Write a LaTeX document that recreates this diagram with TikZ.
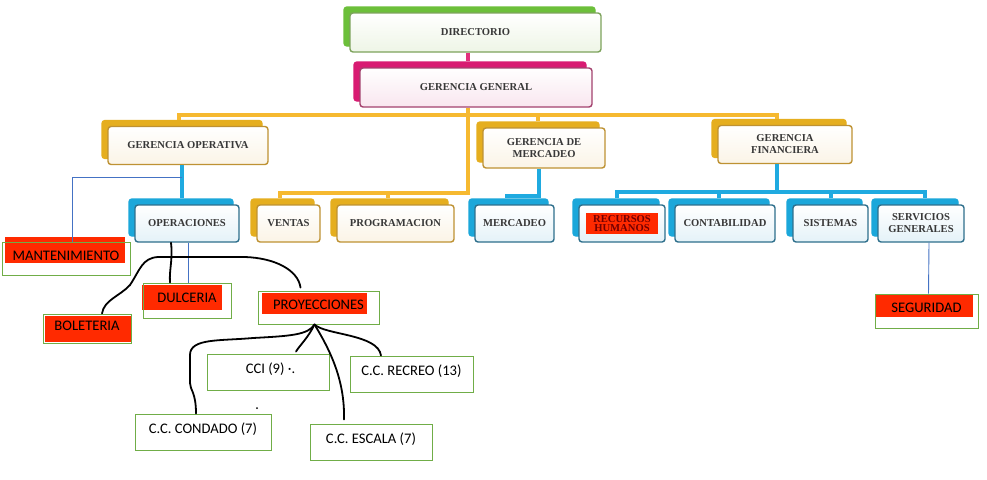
\documentclass[tikz,border=0pt]{standalone}
\usepackage{fontspec}
\setmainfont{Liberation Serif}
\newfontfamily\wordfont{Carlito}
\usetikzlibrary{shadows}

\definecolor{grnback}{HTML}{6CBF3A}
\definecolor{grnedge}{HTML}{7DA35C}
\definecolor{grnfill}{HTML}{EEF5E6}
\definecolor{magback}{HTML}{D81B72}
\definecolor{magedge}{HTML}{A3426E}
\definecolor{magfill}{HTML}{F9E6EF}
\definecolor{yelback}{HTML}{E5AE1F}
\definecolor{yeledge}{HTML}{BE9233}
\definecolor{yelfill}{HTML}{FBF4E6}
\definecolor{bluback}{HTML}{1BA7DA}
\definecolor{bluedge}{HTML}{2E6F8C}
\definecolor{blufill}{HTML}{E4F2F8}
\definecolor{yelline}{HTML}{F6B930}
\definecolor{bluline}{HTML}{1FAAE0}
\definecolor{pinkline}{HTML}{E2307C}
\definecolor{thinblue}{HTML}{4472C4}
\definecolor{wordgreen}{HTML}{70AD47}
\definecolor{marker}{HTML}{FF2A00}

\tikzset{
    orgbox/.style={rounded corners=3pt, line width=1.4pt, inner sep=0pt, align=center,
        minimum height=38pt, text=black!78,
        font=\bfseries\fontsize{10.6}{12}\selectfont},
    grnbox/.style={orgbox, draw=grnedge, top color=white, bottom color=grnfill,
        copy shadow={shadow xshift=-6pt, shadow yshift=6pt, fill=grnback, draw=grnback}},
    magbox/.style={orgbox, draw=magedge, top color=white, bottom color=magfill,
        copy shadow={shadow xshift=-6pt, shadow yshift=6pt, fill=magback, draw=magback}},
    yelbox/.style={orgbox, draw=yeledge, top color=white, bottom color=yelfill,
        copy shadow={shadow xshift=-6pt, shadow yshift=6pt, fill=yelback, draw=yelback}},
    blubox/.style={orgbox, draw=bluedge, top color=white, bottom color=blufill,
        copy shadow={shadow xshift=-6pt, shadow yshift=6pt, fill=bluback, draw=bluback}},
    wordbox/.style={draw=wordgreen, line width=1pt, inner sep=0pt,
        text height=10pt, text depth=6.6pt,
        font=\wordfont\fontsize{14.6}{16}\selectfont},
    yel/.style={yelline, line width=4pt},
    blu/.style={bluline, line width=4pt},
    thinline/.style={thinblue, line width=0.9pt},
    hand/.style={line width=1.8pt, line cap=round, line join=round}
}

\begin{document}
\begin{tikzpicture}[x=1pt, y=-1pt]
    \useasboundingbox[fill=white] (0,0) rectangle (987,479);

    % top of the chart
    \node[grnbox, minimum width=251pt, minimum height=39pt] (dir) at (475.5,32.5) {DIRECTORIO};
    \node[magbox, minimum width=232pt, minimum height=39pt] (gg) at (476,87.5) {GERENCIA GENERAL};
    \node[yelbox, minimum width=160pt] (gop) at (188,145.5) {GERENCIA OPERATIVA};
    \node[yelbox, minimum width=122pt, minimum height=40pt] (gmer) at (544,148) {GERENCIA DE\\MERCADEO};
    \node[yelbox, minimum width=134pt] (gfin) at (785,144.5) {GERENCIA\\FINANCIERA};

    % second row
    \node[blubox, minimum width=104pt, minimum height=37pt] (oper) at (187,223.5) {OPERACIONES};
    \node[yelbox, minimum width=63pt, minimum height=37pt] (vent) at (288.5,223.5) {VENTAS};
    \node[yelbox, minimum width=117pt, minimum height=37pt] (prog) at (395.5,223.5) {PROGRAMACION};
    \node[blubox, minimum width=79pt, minimum height=37pt] (merc) at (514.5,223.5) {MERCADEO};
    \node[blubox, minimum width=86pt, minimum height=37pt, text=red!45!black] (rrhh) at (622,223.5)
        {\setlength{\fboxsep}{2pt}\colorbox{marker}{\parbox{68pt}{\centering RECURSOS\\[-2.5pt]HUMANOS}}};
    \node[blubox, minimum width=100pt, minimum height=37pt] (cont) at (725,223.5) {CONTABILIDAD};
    \node[blubox, minimum width=75pt, minimum height=37pt] (sist) at (830.5,223.5) {SISTEMAS};
    \node[blubox, minimum width=86pt, minimum height=37pt] (serv) at (921,223.5) {SERVICIOS\\GENERALES};

    % marker strokes
    \fill[marker] (5,237) rectangle (125,263);
    \fill[marker] (142,285) rectangle (222,310);
    \fill[marker] (45,316) rectangle (131,342);
    \fill[marker] (262,293) rectangle (367,314);
    \fill[marker] (875,294) rectangle (973,317);

    % hand made boxes
    \node[wordbox, minimum width=128pt, minimum height=33pt] (mant) at (66,258.5) {MANTENIMIENTO};
    \node[wordbox, minimum width=88pt, minimum height=35pt] (dulc) at (187,300.5) {DULCERIA};
    \node[wordbox, minimum width=88pt, minimum height=29pt] (bol) at (87,328.5) {BOLETERIA};
    \node[wordbox, minimum width=121pt, minimum height=33pt] (proy) at (318.5,307.5) {PROYECCIONES};
    \node[wordbox, minimum width=103pt, minimum height=34pt] (seg) at (926.5,311) {SEGURIDAD};
    \node[wordbox, minimum width=122pt, minimum height=36pt] (cci) at (268,372) {\hspace{5pt}CCI (9) ·.};
    \node[wordbox, minimum width=123pt, minimum height=36pt] (recr) at (411.5,374) {C.C. RECREO (13)};
    \node[wordbox, minimum width=136pt, minimum height=36pt] (cond) at (203,432) {C.C. CONDADO (7)};
    \node[wordbox, minimum width=122pt, minimum height=36pt] (esca) at (371,442) {C.C. ESCALA (7)};
    \fill (257,408) circle (1pt);

    % chart connectors
    \draw[pinkline, line width=4pt] ([xshift=-7.5pt]dir.south) -- ([xshift=-8pt,yshift=6pt]gg.north);
    \draw[yel] ([xshift=-8pt]gg.south) -- ++(0,85) -| ([xshift=-8.5pt,yshift=6pt]vent.north);
    \draw[yel] ([xshift=-7.5pt,yshift=6pt]prog.north) -- ++(0,-7);
    \draw[yel] ([xshift=-9pt,yshift=6pt]gop.north) -- ++(0,-5) -| ([xshift=-8pt,yshift=6pt]gfin.north);
    \draw[yel] ([xshift=-6pt,yshift=6pt]gmer.north) -- ++(0,-7);
    \draw[blu] ([xshift=-6pt]gop.south) -- ([xshift=-5pt,yshift=6pt]oper.north);
    \draw[blu] ([xshift=-5pt]gmer.south) -- ++(0,27) -| ([xshift=-7.5pt,yshift=6pt]merc.north);
    \draw[blu] ([xshift=-8pt]gfin.south) -- ++(0,29);
    \draw[blu] ([xshift=-5pt,yshift=6pt]rrhh.north) -- ++(0,-6) -| ([xshift=4pt,yshift=6pt]serv.north);
    \draw[blu] ([xshift=-6pt,yshift=6pt]cont.north) -- ++(0,-6);
    \draw[blu] ([yshift=6pt]sist.north) -- ++(0,-6);

    % thin lines
    \draw[thinline] ([xshift=-6pt,yshift=-12pt]gop.south) -| ([xshift=6pt]mant.north);
    \draw[thinline] ([xshift=1pt]oper.south) -- ([xshift=1pt]dulc.north);
    \draw[thinline] ([xshift=8pt]serv.south) -- ([xshift=2pt]seg.north);

    % pen strokes
    \draw[hand] ([xshift=-16pt]oper.south) .. controls (173,260) and (169,270) .. ([xshift=-17pt]dulc.north);
    \draw[hand] ([xshift=15pt]bol.north) .. controls (104,300) and (120,296) .. (130,285)
        .. controls (140,270) and (142,258) .. (158,257) -- (245,257)
        .. controls (275,258) and (298,270) .. ([xshift=-18pt,yshift=3pt]proy.north);
    \draw[hand] ([xshift=-4pt]proy.south) .. controls (308,338) and (300,345) .. ([xshift=28pt,yshift=2pt]cci.north);
    \draw[hand] ([xshift=-4pt]proy.south) .. controls (325,335) and (378,334) .. ([xshift=-30.5pt]recr.north);
    \draw[hand] ([xshift=-4pt]proy.south) .. controls (330,350) and (345,380) .. ([xshift=-27pt,yshift=4pt]esca.north);
    \draw[hand] ([xshift=-4pt]proy.south) .. controls (308,335) and (290,336) .. (253,338)
        .. controls (220,341) and (190,338) .. (190,355) -- (190,383)
        .. controls (190,390) and (196,392) .. ([xshift=-7pt]cond.north);
\end{tikzpicture}
\end{document}
